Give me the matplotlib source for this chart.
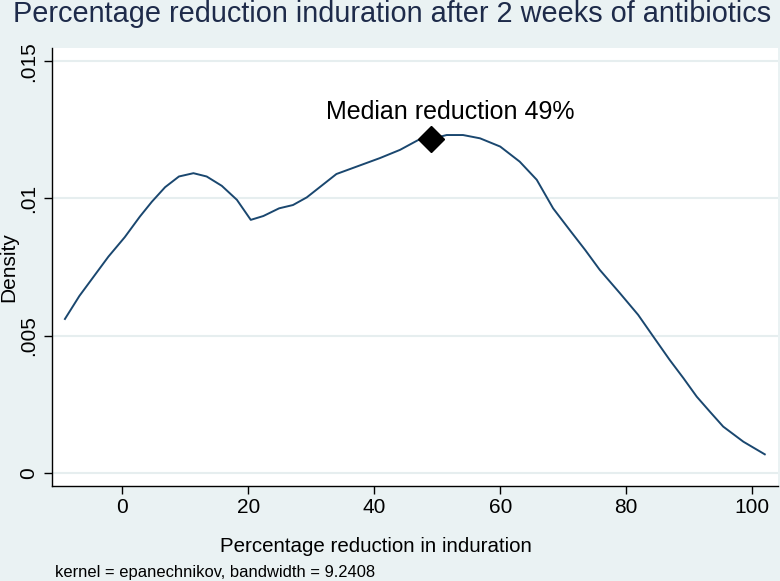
import matplotlib
matplotlib.use("Agg")
import matplotlib.pyplot as plt

plt.rcParams['font.family'] = ['Liberation Sans', 'DejaVu Sans']

# Kernel density estimate
x_vals = [-9.1, -6.8, -2.2, 0.4, 2.8, 4.7, 6.8, 9.0, 11.3, 13.4, 15.8, 18.2, 20.4,
          22.4, 24.9, 27.1, 28.2, 29.3, 34.0, 40.9, 44.1, 47.0, 49.1, 51.5, 54.1,
          56.8, 60.0, 63.1, 65.8, 68.4, 71.2, 73.5, 75.8, 79.0, 81.9, 84.3, 86.9,
          89.1, 91.2, 93.3, 95.4, 98.6, 102.0]
density = [0.00561, 0.00645, 0.00788, 0.00859, 0.00934, 0.00988, 0.01041, 0.01080,
           0.01092, 0.01080, 0.01046, 0.00995, 0.00922, 0.00936, 0.00964, 0.00976,
           0.00990, 0.01004, 0.01089, 0.01147, 0.01177, 0.01213, 0.01217, 0.01231,
           0.01231, 0.01219, 0.01189, 0.01134, 0.01068, 0.00964, 0.00880, 0.00812,
           0.00740, 0.00655, 0.00576, 0.00497, 0.00412, 0.00345, 0.00278, 0.00223,
           0.00169, 0.00114, 0.00068]

median_x = 49
median_y = 0.01217
median_label = "Median reduction 49%"

x_ticks = [0, 20, 40, 60, 80, 100]
y_ticks = [0, 0.005, 0.01, 0.015]
y_tick_labels = ["0", ".005", ".01", ".015"]

title = "Percentage reduction induration after 2 weeks of antibiotics"
xlabel = "Percentage reduction in induration"
ylabel = "Density"
note = "kernel = epanechnikov, bandwidth = 9.2408"

W, H = 780, 581
bg = "#EAF2F3"
navy = "#1a476f"

fig = plt.figure(figsize=(W / 100, H / 100), dpi=100, facecolor=bg)
ax = fig.add_axes([51.7 / W, 1 - 485.7 / H, (778 - 51.7) / W, (485.7 - 48) / H])
ax.set_facecolor("white")

ax.plot(x_vals, density, color=navy, lw=1.4, zorder=3)
ax.plot([median_x], [median_y], marker="D", color="black", ms=13.5, zorder=4)
ax.annotate(median_label, (median_x, median_y), xytext=(14, 14),
            textcoords="offset points", ha="center", va="baseline", fontsize=18,
            color="black")

ax.set_xlim(-11.2, 104.1)
ax.set_ylim(-0.000463, 0.01548)
ax.set_xticks(x_ticks)
ax.set_xticklabels([str(t) for t in x_ticks])
ax.set_yticks(y_ticks)
ax.set_yticklabels(y_tick_labels, rotation=90, va="center")

for s in ["top", "right"]:
    ax.spines[s].set_visible(False)
for s in ["left", "bottom"]:
    ax.spines[s].set_color("black")
    ax.spines[s].set_linewidth(1.0)

ax.tick_params(axis="both", direction="out", length=6, width=1, labelsize=15,
               colors="black")
ax.tick_params(axis="x", pad=3)
ax.tick_params(axis="y", pad=4)
ax.grid(axis="y", color="#E6EEEF", lw=1.5)
ax.set_axisbelow(True)

fig.text(9 / W, 1 - 267 / H, ylabel, ha="center", va="center", rotation=90,
         fontsize=15)
fig.text(376 / W, 1 - 552.5 / H, xlabel, ha="center", va="baseline", fontsize=14.8)

fig.text(13 / W, 1 - 22 / H, title, ha="left", va="baseline", fontsize=20.8,
         color="#1E2B4A")
fig.text(55 / W, 1 - 577 / H, note, ha="left", va="baseline", fontsize=11.9)

fig.savefig("out.png", dpi=100, facecolor=bg)
